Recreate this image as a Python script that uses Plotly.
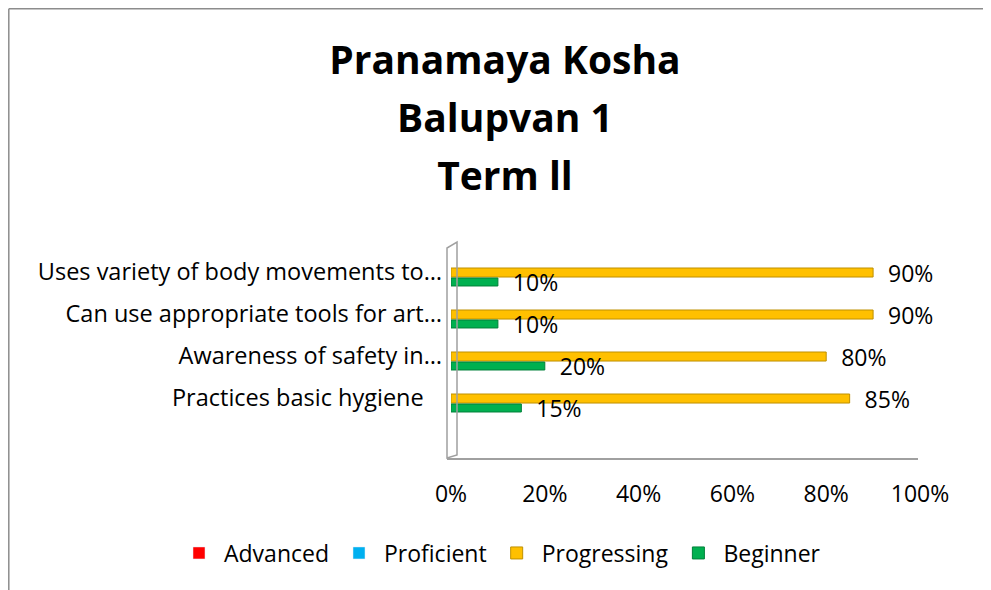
import plotly.graph_objects as go

# ---- data ----
categories = [
    "Practices basic hygiene",
    "Awareness of safety in…",
    "Can use appropriate tools for art…",
    "Uses variety of body movements to…",
]
# displayed category labels (first one has trailing blanks as in the source sheet)
category_labels = [
    "Practices basic hygiene\u00a0\u00a0\u00a0",
    "Awareness of safety in…",
    "Can use appropriate tools for art…",
    "Uses variety of body movements to…",
]
advanced = [None, None, None, None]
proficient = [None, None, None, None]
progressing = [85, 80, 90, 90]
beginner = [15, 20, 10, 10]
x_ticks = [0, 20, 40, 60, 80, 100]
x_tick_labels = ["0%", "20%", "40%", "60%", "80%", "100%"]

FONT = "Open Sans"

# page offset (default body margin of the html page)
OFF = 8
W, H = 991 - OFF, 590 - OFF
# target pixel positions on the page, converted to figure pixels
L, R, T, B = 451 - OFF, 920 - OFF, 242 - OFF, 460 - OFF

def px(x):
    return (x - OFF - L) / (R - L)

def py(y):
    return (B - (y - OFF)) / (B - T)

def pct(vals):
    return [f"{v}%" for v in vals]

fig = go.Figure()
fig.add_trace(go.Bar(name="Advanced", y=categories, x=advanced, orientation="h",
                     marker=dict(color="#FF0000"), offset=-0.12, width=0.215))
fig.add_trace(go.Bar(name="Proficient", y=categories, x=proficient, orientation="h",
                     marker=dict(color="#00B0F0"), offset=-0.12, width=0.215))
fig.add_trace(go.Bar(name="Progressing", y=categories, x=progressing, orientation="h",
                     marker=dict(color="#FFC000", line=dict(color="#BF9000", width=1)),
                     offset=-0.12, width=0.215,
                     text=pct(progressing), texttemplate="\u00a0\u00a0%{text}",
                     textposition="outside", constraintext="none", cliponaxis=False,
                     textfont=dict(family=FONT, size=23, color="#000000")))
fig.add_trace(go.Bar(name="Beginner", y=categories, x=beginner, orientation="h",
                     marker=dict(color="#00B050", line=dict(color="#00803A", width=1)),
                     offset=-0.333, width=0.19,
                     text=pct(beginner), texttemplate="\u00a0\u00a0%{text}",
                     textposition="outside", constraintext="none", cliponaxis=False,
                     textfont=dict(family=FONT, size=23, color="#000000")))

gray = "#A0A0A0"
shapes = [
    # chart border (top and left)
    dict(type="line", xref="paper", yref="paper", x0=px(8.8), x1=px(1000), y0=py(8.8), y1=py(8.8),
         line=dict(color="#8C8C8C", width=1.5)),
    dict(type="line", xref="paper", yref="paper", x0=px(8.8), x1=px(8.8), y0=py(8.8), y1=py(600),
         line=dict(color="#8C8C8C", width=1.5)),
    # 3D wall
    dict(type="path", xref="paper", yref="paper",
         path=f"M{px(447)},{py(458)} L{px(447)},{py(248)} L{px(457)},{py(242)} L{px(457)},{py(455)} Z",
         line=dict(color=gray, width=1.5), fillcolor="rgba(0,0,0,0)"),
    # floor line
    dict(type="line", xref="paper", yref="paper", x0=px(447), x1=px(918), y0=py(459), y1=py(459),
         line=dict(color=gray, width=2)),
]

title_text = ("<b><span style='font-size:39px'>Pranamaya Kosha</span><br>"
              "<span style='font-size:39px'>Balupvan 1</span><br>"
              "<span style='font-size:39px'>Term ll</span></b>")

fig.update_layout(
    width=W, height=H,
    paper_bgcolor="#FFFFFF", plot_bgcolor="rgba(0,0,0,0)",
    margin=dict(l=L, r=W - R, t=T, b=H - B, autoexpand=False),
    barmode="overlay",
    font=dict(family=FONT, size=23, color="#000000"),
    title=dict(text=title_text, x=(505 - OFF) / W, xref="container", xanchor="center",
               y=1 - 66 / H, yref="container", yanchor="top", automargin=False,
               font=dict(family=FONT, size=44.6, color="#000000")),
    xaxis=dict(range=[0, 100], tickvals=x_ticks, ticktext=x_tick_labels, showgrid=False,
               zeroline=False, showline=False, ticks="", ticklabelstandoff=18,
               automargin=False,
               tickfont=dict(family=FONT, size=23, color="#000000"), fixedrange=True),
    yaxis=dict(type="category", categoryorder="array", categoryarray=categories,
               tickvals=categories, ticktext=category_labels,
               range=[-1.476, 3.714], showgrid=False, zeroline=False, showline=False,
               ticks="", ticklabelstandoff=8, automargin=False,
               tickfont=dict(family=FONT, size=23.5, color="#000000"), fixedrange=True),
    legend=dict(orientation="h", xref="paper", yref="paper",
                x=px(174), xanchor="left", y=py(553), yanchor="middle",
                font=dict(family=FONT, size=23, color="#000000"), itemwidth=40,
                bgcolor="rgba(0,0,0,0)"),
    shapes=shapes,
    showlegend=True,
)

fig.write_html("out.html")
